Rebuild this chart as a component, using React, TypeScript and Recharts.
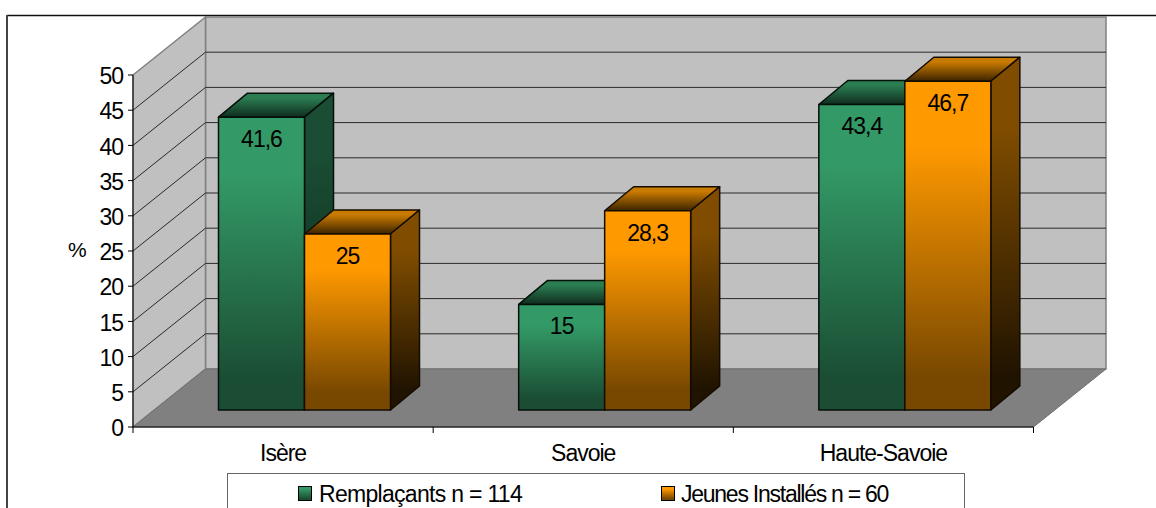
import { BarChart, Bar, XAxis, YAxis, Legend, LabelList, usePlotArea } from "recharts";

const categories = ["Isère", "Savoie", "Haute-Savoie"];
const remplacants = [41.6, 15, 43.4];
const jeunesInstalles = [25, 28.3, 46.7];
const yTicks = [0, 5, 10, 15, 20, 25, 30, 35, 40, 45, 50];
const seriesNames = ["Remplaçants n = 114", "Jeunes Installés n = 60"];

const chartData = categories.map((name, i) => ({
  name,
  remplacants: remplacants[i],
  jeunes: jeunesInstalles[i],
}));

const FONT = "'Liberation Sans', Arial, sans-serif";
const TICK_STYLE = { fontFamily: FONT, fontSize: 23, letterSpacing: -1, fill: "#000" };

// depth of the box: the back wall sits up and to the right of the axis plane
const WALL_DX = 72.5;
const WALL_DY = 58;
// bars stand a bit inside the floor
const BAR_DX = 21.5;
const BAR_DY = 17;
const BOX_DX = 29;
const BOX_DY = 24;

function Walls() {
  const plot = usePlotArea();
  if (!plot) return null;
  const { x, y, width, height } = plot;
  const bottom = y + height;
  const right = x + width;
  const yOf = (v: number) => y + height * (1 - v / 50);
  const bandW = width / categories.length;
  return (
    <g>
      <line x1={7} y1={15.5} x2={1156} y2={15.5} stroke="#111" strokeWidth={1.5} />
      <line x1={7} y1={15} x2={7} y2={508} stroke="#444" strokeWidth={2} />
      <polygon
        points={`${x + WALL_DX},${y - WALL_DY} ${right + WALL_DX},${y - WALL_DY} ${right + WALL_DX},${bottom - WALL_DY} ${x + WALL_DX},${bottom - WALL_DY}`}
        fill="#c0c0c0"
        stroke="#808080"
        strokeWidth={1.5}
      />
      <polygon
        points={`${x},${y} ${x + WALL_DX},${y - WALL_DY} ${x + WALL_DX},${bottom - WALL_DY} ${x},${bottom}`}
        fill="#c0c0c0"
        stroke="#808080"
        strokeWidth={1.5}
      />
      <polygon
        points={`${x},${bottom} ${x + WALL_DX},${bottom - WALL_DY} ${right + WALL_DX},${bottom - WALL_DY} ${right},${bottom}`}
        fill="#808080"
        stroke="#707070"
      />
      {yTicks.slice(1, -1).map((v) => (
        <g key={v} stroke="#2a2a2a" strokeWidth={1}>
          <line x1={x} y1={yOf(v)} x2={x + WALL_DX} y2={yOf(v) - WALL_DY} />
          <line x1={x + WALL_DX} y1={yOf(v) - WALL_DY} x2={right + WALL_DX} y2={yOf(v) - WALL_DY} />
        </g>
      ))}
      {[0, 1, 2, 3].map((i) => (
        <line key={i} x1={x + i * bandW} y1={bottom} x2={x + i * bandW} y2={bottom + 6} stroke="#000" />
      ))}
    </g>
  );
}

function Box3D(props: any) {
  const { x, y, width, height, palette, edge } = props;
  const fx = x + BAR_DX;
  const fy = y - BAR_DY;
  const fr = fx + width;
  const fb = fy + height;
  return (
    <g stroke={edge} strokeWidth={1.5} strokeLinejoin="round">
      <polygon
        points={`${fx},${fy} ${fx + BOX_DX},${fy - BOX_DY} ${fr + BOX_DX},${fy - BOX_DY} ${fr},${fy}`}
        fill={`url(#${palette}Top)`}
      />
      <polygon
        points={`${fr},${fy} ${fr + BOX_DX},${fy - BOX_DY} ${fr + BOX_DX},${fb - BOX_DY} ${fr},${fb}`}
        fill={`url(#${palette}Side)`}
      />
      <rect x={fx} y={fy} width={width} height={height} fill={`url(#${palette}Front)`} />
    </g>
  );
}

function BarValue(props: any) {
  const { x, y, width, value } = props;
  return (
    <text
      x={x + width / 2 + BAR_DX}
      y={y - BAR_DY + 22}
      textAnchor="middle"
      dominantBaseline="central"
      style={{ fontFamily: FONT, fontSize: 23, letterSpacing: -1 }}
      fill="#000"
    >
      {String(value).replace(".", ",")}
    </text>
  );
}

function LegendBox() {
  const swatches = [
    "linear-gradient(#339966 15%, #1a4d33 90%)",
    "linear-gradient(#ff9900 15%, #784800 90%)",
  ];
  const lefts = [69.5, 433];
  const textGaps = [21.5, 20];
  const spacing = [-0.7, -1.25];
  return (
    <div
      style={{
        position: "relative",
        width: 738,
        height: 60,
        boxSizing: "border-box",
        border: "1.5px solid #666",
        background: "#fff",
        fontFamily: FONT,
        fontSize: 23,
        color: "#000",
      }}
    >
      {seriesNames.map((name, i) => (
        <div key={name} style={{ position: "absolute", left: lefts[i], top: 8, whiteSpace: "nowrap", lineHeight: "24px" }}>
          <span
            style={{
              position: "absolute",
              left: 0,
              top: 4,
              width: 12,
              height: 13,
              border: "1px solid #000",
              background: swatches[i],
            }}
          />
          <span style={{ marginLeft: textGaps[i], letterSpacing: spacing[i] }}>{name}</span>
        </div>
      ))}
    </div>
  );
}

function Gradient({ id, from, to, start = 0, end = 1 }: { id: string; from: string; to: string; start?: number; end?: number }) {
  return (
    <linearGradient id={id} x1="0" y1="0" x2="0" y2="1">
      <stop offset={start} stopColor={from} />
      <stop offset={end} stopColor={to} />
    </linearGradient>
  );
}

export default function App() {
  return (
    <div style={{ position: "absolute", left: 0, top: 0, width: 1156, height: 508, overflow: "hidden", background: "#fff" }}>
      <BarChart
        width={1156}
        height={508}
        data={chartData}
        margin={{ top: 75, right: 122.5, bottom: 0, left: 0 }}
        barCategoryGap={64}
        barGap={0}
      >
        <defs>
          <Gradient id="greenFront" from="#339966" to="#1a4d33" start={0.2} end={0.9} />
          <Gradient id="greenSide" from="#1a4d33" to="#0d261a" start={0.2} end={0.9} />
          <Gradient id="greenTop" from="#2b7d52" to="#0f2c1e" start={0.2} />
          <Gradient id="orangeFront" from="#ff9900" to="#784800" start={0.2} end={0.9} />
          <Gradient id="orangeSide" from="#804d00" to="#201300" start={0.2} end={0.9} />
          <Gradient id="orangeTop" from="#c97a00" to="#3c2400" start={0.2} />
        </defs>
        <Walls />
        <XAxis
          dataKey="name"
          height={81}
          interval={0}
          tickLine={false}
          tickMargin={12}
          axisLine={{ stroke: "#000" }}
          tick={TICK_STYLE}
        />
        <YAxis
          width={133}
          domain={[0, 50]}
          ticks={yTicks}
          interval={0}
          tickSize={5}
          tickMargin={5}
          axisLine={{ stroke: "#000" }}
          tickLine={{ stroke: "#000" }}
          tick={{ ...TICK_STYLE, dy: 1 }}
          label={{
            value: "%",
            position: "insideLeft",
            offset: 68,
            dy: -1,
            style: { fontFamily: FONT, fontSize: 21, fill: "#000" },
          }}
        />
        <Legend
          layout="horizontal"
          verticalAlign="middle"
          align="center"
          wrapperStyle={{ left: 227, top: 473, width: 738, height: 60 }}
          content={() => <LegendBox />}
        />
        <Bar
          dataKey="remplacants"
          name={seriesNames[0]}
          fill="#339966"
          isAnimationActive={false}
          shape={(p: any) => <Box3D {...p} palette="green" edge="#04100a" />}
        >
          <LabelList dataKey="remplacants" content={BarValue} />
        </Bar>
        <Bar
          dataKey="jeunes"
          name={seriesNames[1]}
          fill="#ff9900"
          isAnimationActive={false}
          shape={(p: any) => <Box3D {...p} palette="orange" edge="#140c00" />}
        >
          <LabelList dataKey="jeunes" content={BarValue} />
        </Bar>
      </BarChart>
    </div>
  );
}
